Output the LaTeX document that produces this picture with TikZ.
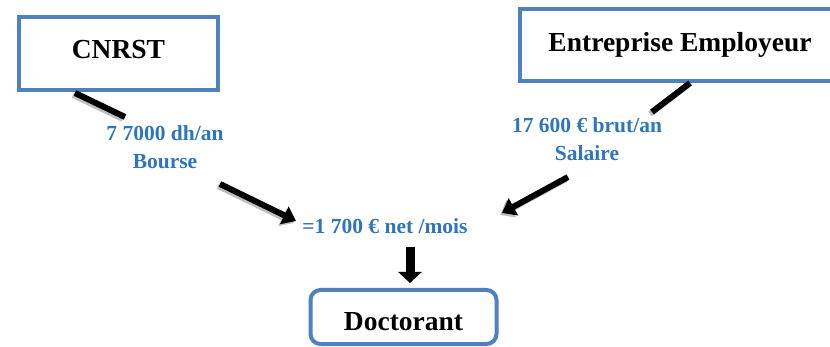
\documentclass[tikz,border=0pt]{standalone}
\usepackage{fontspec}
\setmainfont{Liberation Serif}
\usetikzlibrary{arrows.meta}
\definecolor{boxblue}{RGB}{79,129,189}
\definecolor{txtblue}{RGB}{46,117,190}

\begin{document}
\begin{tikzpicture}[x=1pt, y=-1pt,
  box/.style={draw=boxblue, line width=4pt, inner sep=0pt, font=\fontsize{27.5}{30}\bfseries},
  amount/.style={text=txtblue, align=center, inner sep=0pt, font=\fontsize{21.5}{28}\bfseries},
  link/.style={line width=6pt, black},
  ombre/.style={line width=6pt, gray!50, transform canvas={shift={(-2pt,-2pt)}}},
  fleche/.style={-{Triangle[width=19pt,length=13pt]}}]
\useasboundingbox (0,0) rectangle (830,347);
\node[box, minimum width=199, minimum height=73, text depth=8pt] (cnrst) at (118.5,53.5) {CNRST};
\node[box, minimum width=320, minimum height=72] (entreprise) at (680,45) {Entreprise Employeur};
\node[box, rounded corners=10pt, minimum width=186, minimum height=54, text height=27pt] (doctorant) at (403.5,317) {Doctorant};
\node[amount] (bourse) at (165,147) {7 7000 dh/an\\Bourse};
\node[amount] (salaire) at (587,139) {17 600 € brut/an\\Salaire};
\node[amount] (net) at (385,226) {=1 700 € net /mois};
% connectors
\coordinate (c1) at (75,93);
\coordinate (c2) at (125,117);
\coordinate (c3) at (220,184);
\coordinate (c4) at (296,221);
\coordinate (e1) at (690,83);
\coordinate (e2) at (652,112);
\coordinate (e3) at (568,177);
\coordinate (e4) at (502,213);
\coordinate (d1) at (410,247);
\coordinate (d2) at (410,283);
\draw[ombre] (c1) -- (c2);
\draw[ombre] (e1) -- (e2);
\draw[ombre, fleche] (c3) -- (c4);
\draw[ombre, fleche] (e3) -- (e4);
\draw[link] (c1) -- (c2);
\draw[link] (e1) -- (e2);
\draw[link, fleche] (c3) -- (c4);
\draw[link, fleche] (e3) -- (e4);
\draw[line width=9pt, -{Triangle[width=23pt,length=11pt]}] (d1) -- (d2);
\end{tikzpicture}
\end{document}
